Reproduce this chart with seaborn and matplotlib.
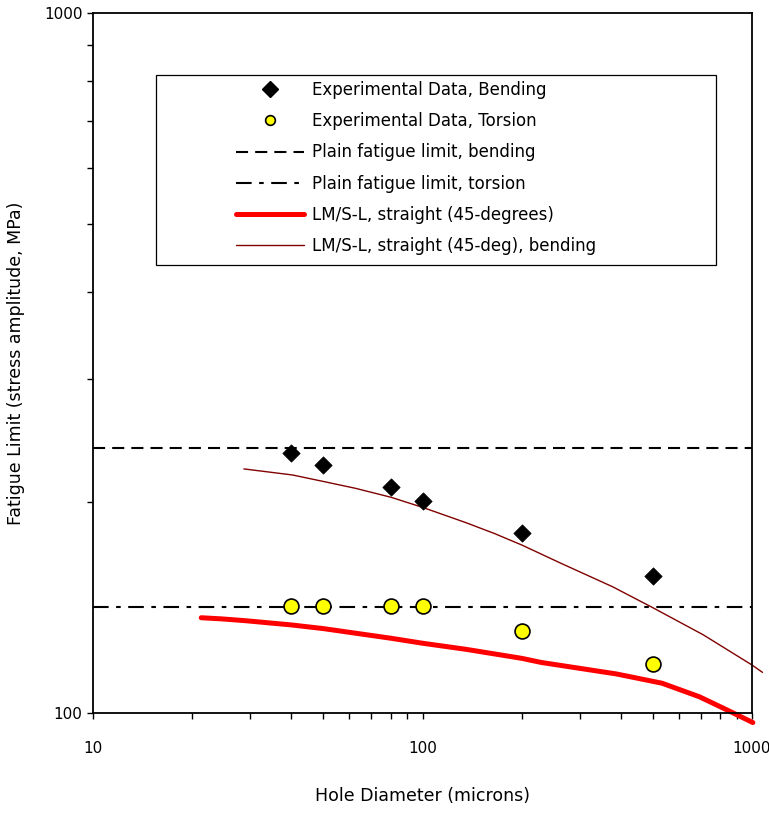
import matplotlib
matplotlib.use("Agg")
import matplotlib.pyplot as plt
from matplotlib.lines import Line2D
from matplotlib.patches import Rectangle
from matplotlib.ticker import LogLocator, NullFormatter, FuncFormatter
import seaborn as sns
import pandas as pd

# ---- data ----
bend_x = [40, 50, 80, 100, 200, 500]
bend_y = [235, 226, 210.5, 201, 180.5, 157]
tors_x = [40, 50, 80, 100, 200, 500]
tors_y = [142, 142, 142, 142, 131, 117.5]
plain_bending = 239
plain_torsion = 141.5
lm_x = [21.3, 24.5, 28.9, 40, 50, 80, 100, 135.6, 200, 229, 388, 533, 692, 840, 1006]
lm_y = [136.8, 136.3, 135.5, 133.6, 132.0, 127.9, 125.8, 123.3, 119.7, 118.1, 113.7, 110.3, 105.5, 101.0, 96.9]
lmb_x = [28.7, 40.3, 50.2, 62.6, 80.3, 100, 135.6, 164.7, 200, 263.4, 377.3, 500, 711.9, 1000, 1076]
lmb_y = [223.2, 218.8, 214.1, 209.4, 203.3, 196.7, 187.0, 180.6, 173.8, 163.6, 151.5, 141.4, 129.3, 117.1, 114.3]
x_ticks = [10, 100, 1000]
y_ticks = [100, 1000]
labels = ["Experimental Data, Bending", "Experimental Data, Torsion",
          "Plain fatigue limit, bending", "Plain fatigue limit, torsion",
          "LM/S-L, straight (45-degrees)", "LM/S-L, straight (45-deg), bending"]

sns.set_style("white")
plt.rcParams['font.family'] = ['DejaVu Sans']
plt.rcParams.update({"text.color": "black", "axes.labelcolor": "black",
                     "xtick.color": "black", "ytick.color": "black"})

fig = plt.figure(figsize=(7.69, 8.13), dpi=100)
ax = fig.add_axes([93/769, 1-713/813, 659/769, 700/813])
ax.set_xscale("log")
ax.set_yscale("log")

ax.axhline(plain_bending, color="black", lw=1.5, linestyle=(0, (5.8, 3.4)))
ax.axhline(plain_torsion, color="black", lw=1.5, linestyle=(0, (7.5, 3.6, 2.2, 3.6)))

sns.lineplot(x=lm_x, y=lm_y, sort=False, estimator=None, color="#ff0000",
             lw=3.6, ax=ax, clip_on=False)
sns.lineplot(x=lmb_x, y=lmb_y, sort=False, estimator=None, color="#800000",
             lw=1.0, ax=ax, clip_on=False)
sns.scatterplot(x=bend_x, y=bend_y, marker="D", color="black", s=78,
                edgecolor="black", linewidth=0.5, ax=ax, zorder=5)
sns.scatterplot(x=tors_x, y=tors_y, marker="o", color="#ffff00", s=115,
                edgecolor="black", linewidth=1.2, ax=ax, zorder=5)

ax.set_xlim(10, 1000)
ax.set_ylim(100, 1000)

ax.xaxis.set_major_locator(LogLocator(base=10, numticks=10))
ax.xaxis.set_minor_locator(LogLocator(base=10, subs=range(2, 10), numticks=20))
ax.yaxis.set_major_locator(LogLocator(base=10, numticks=10))
ax.yaxis.set_minor_locator(LogLocator(base=10, subs=range(2, 10), numticks=20))
ax.set_xticks(x_ticks)
ax.set_yticks(y_ticks)
fmt = FuncFormatter(lambda v, p: f"{v:g}")
ax.xaxis.set_major_formatter(fmt)
ax.yaxis.set_major_formatter(fmt)
ax.xaxis.set_minor_formatter(NullFormatter())
ax.yaxis.set_minor_formatter(NullFormatter())
ax.tick_params(axis="both", which="both", direction="out", length=4.5, width=1.0,
               color="black", bottom=True, left=True, top=False, right=False)
ax.tick_params(axis="x", which="major", labelsize=11, pad=16)
ax.tick_params(axis="y", which="major", labelsize=11, pad=3)

for s in ax.spines.values():
    s.set_color("black")
    s.set_linewidth(1.3)

ax.set_xlabel("Hole Diameter (microns)", fontsize=12.5, labelpad=22)
ax.set_ylabel("Fatigue Limit (stress amplitude, MPa)", fontsize=12.5, labelpad=14)

# legend box
ax.add_patch(Rectangle((63/659, (713-265)/700), (716-156)/659, (265-75)/700,
                       transform=ax.transAxes, fill=False, edgecolor="black",
                       lw=0.9, zorder=6))
handles = [
    Line2D([], [], ls="none", marker="D", color="black", markersize=8),
    Line2D([], [], ls="none", marker="o", markerfacecolor="#ffff00",
           markeredgecolor="black", markersize=7, markeredgewidth=1.2),
    Line2D([], [], color="black", lw=1.5, linestyle=(0, (5.8, 3.4))),
    Line2D([], [], color="black", lw=1.5, linestyle=(0, (7.5, 3.6, 2.2, 3.6))),
    Line2D([], [], color="#ff0000", lw=3.6),
    Line2D([], [], color="#800000", lw=1.0),
]
leg = ax.legend(handles, labels, loc="upper left",
                bbox_to_anchor=(236/769, 1-81/813), bbox_transform=fig.transFigure,
                frameon=False, fontsize=12, borderpad=0, borderaxespad=0,
                handlelength=4.1, handletextpad=0.45, labelspacing=0.79)

fig.savefig("out.png", dpi=100, facecolor="white")
